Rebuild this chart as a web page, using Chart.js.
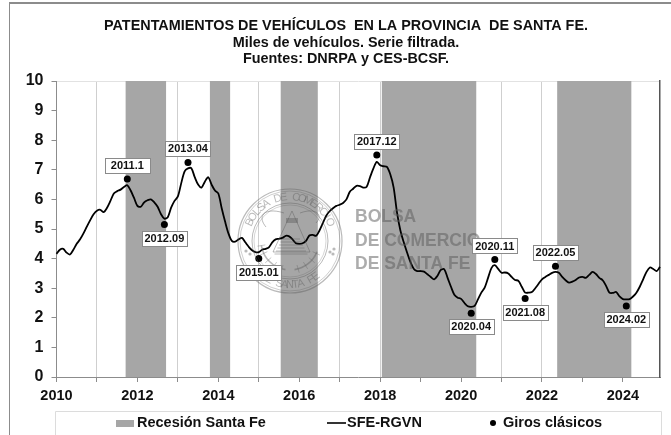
<!DOCTYPE html>
<html><head><meta charset="utf-8">
<style>html,body{margin:0;padding:0;background:#fff}#w{position:relative;width:671px;height:435px}</style>
<script src="https://cdn.jsdelivr.net/npm/chart.js@4"></script>
</head><body><div id="w"><canvas id="c" width="671" height="435"></canvas></div>
<script>
const titleLines = ["PATENTAMIENTOS DE VEHÍCULOS  EN LA PROVINCIA  DE SANTA FE.", "Miles de vehículos. Serie filtrada.", "Fuentes: DNRPA y CES-BCSF."];
const startYear = 2010;
const yTicks = [0,1,2,3,4,5,6,7,8,9,10];
const sfeRgvn = [
4.16,4.30,4.33,4.20,4.14,4.30,4.50,4.65,4.85,5.08,5.30,5.50,
5.62,5.65,5.57,5.72,5.95,6.20,6.28,6.33,6.42,6.48,6.30,6.05,
5.78,5.75,5.90,5.97,6.00,5.90,5.75,5.50,5.35,5.40,5.72,5.95,
6.10,6.55,6.95,7.05,7.05,6.75,6.50,6.40,6.60,6.75,6.50,6.30,
6.20,5.70,5.25,4.85,4.60,4.57,4.65,4.70,4.55,4.40,4.28,4.22,
4.22,4.30,4.33,4.38,4.55,4.65,4.67,4.70,4.77,4.75,4.65,4.52,
4.50,4.52,4.60,4.78,4.80,4.77,4.95,5.20,5.45,5.60,5.70,5.78,
5.82,5.88,6.00,6.26,6.36,6.46,6.45,6.40,6.43,6.75,7.05,7.27,
7.15,7.12,7.10,6.85,6.40,5.55,4.95,4.55,4.20,3.88,3.65,3.58,
3.58,3.56,3.47,3.38,3.30,3.42,3.62,3.64,3.35,3.05,2.78,2.68,
2.64,2.50,2.39,2.37,2.40,2.62,2.85,3.02,3.35,3.68,3.78,3.65,
3.52,3.53,3.50,3.38,3.28,3.25,3.05,2.85,2.85,2.87,3.00,3.15,
3.30,3.38,3.45,3.52,3.55,3.52,3.38,3.27,3.19,3.22,3.28,3.36,
3.38,3.35,3.45,3.55,3.48,3.35,3.27,3.08,2.85,2.84,2.87,2.72,
2.63,2.62,2.63,2.72,2.85,3.05,3.30,3.55,3.70,3.65,3.58,3.72];
const recessionStart = [21,46,67,97,149];
const recessionEnd   = [32,51,77,124,170];
const turnLabels = ["2011.1","2012.09","2013.04","2015.01","2017.12","2020.04","2020.11","2021.08","2022.05","2024.02"];
const turnMonth  = [21,32,39,60,95,123,130,139,148,169];
const turnValues = [6.69,5.15,7.25,4.00,7.50,2.15,3.97,2.65,3.74,2.40];
const turnBelow  = [false,true,false,true,false,true,false,true,false,true];
const legendLabels = ["Recesión Santa Fe","SFE-RGVN","Giros clásicos"];

const categories = sfeRgvn.map((_,i)=>(startYear+Math.floor(i/12))+"."+String(i%12+1).padStart(2,"0"));
const recession = categories.map((_,i)=>recessionStart.some((s,k)=>i>=s&&i<=recessionEnd[k])?10:0);
const turnPoints = turnMonth.map((m,k)=>({x:categories[m],y:turnValues[k]}));
const FONT = '"Liberation Sans", Arial, sans-serif';
const BAND = "#a6a6a6";

const frame = {id:"frame",beforeDraw(ch){const c=ch.ctx;c.save();c.fillStyle="#fff";c.fillRect(0,0,671,435);
  c.fillStyle="#8c8c8c";c.fillRect(9,2,662,2);c.fillRect(9,2,1,433);c.restore();}};

function seal(c){
  const cx=290,cy=241,R=52;
  c.save();
  c.strokeStyle="rgba(90,90,90,.42)";c.fillStyle="rgba(90,90,90,.42)";
  [[R,1.2],[R-2,.7],[R-14,1],[R-16,.6]].forEach(([r,w])=>{c.lineWidth=w;c.beginPath();c.arc(cx,cy,r,0,Math.PI*2);c.stroke();});
  // ring text
  c.font='11px '+FONT;c.textAlign="center";c.textBaseline="middle";
  const top="BOLSA DE COMERCIO",bot="DE SANTA FE";
  [...top].forEach((ch,i)=>{const a=-Math.PI/2+(i-(top.length-1)/2)*.142;c.save();c.translate(cx+Math.cos(a)*(R-8),cy+Math.sin(a)*(R-8));c.rotate(a+Math.PI/2);c.fillText(ch,0,0);c.restore();});
  [...bot].forEach((ch,i)=>{const a=Math.PI/2-(i-(bot.length-1)/2)*.125;c.save();c.translate(cx+Math.cos(a)*(R-8),cy+Math.sin(a)*(R-8));c.rotate(a-Math.PI/2);c.fillText(ch,0,0);c.restore();});
  // hill
  c.lineWidth=1;
  c.beginPath();c.moveTo(cx+2,cy-30);c.lineTo(cx-17,cy+11);c.lineTo(cx+20,cy+11);c.closePath();c.stroke();
  for(let k=0;k<6;k++){const y=cy-2+k*3;c.beginPath();c.moveTo(cx-8-k*1.5,y);c.lineTo(cx+10+k*1.5,y);c.stroke();}
  // sheaf and scrolls
  c.fillRect(cx-4,cy-23,12,5);
  c.beginPath();c.moveTo(cx-6,cy-28);c.bezierCurveTo(cx-24,cy-34,cx-34,cy-26,cx-24,cy-14);c.stroke();
  c.beginPath();c.moveTo(cx+10,cy-28);c.bezierCurveTo(cx+26,cy-34,cx+34,cy-26,cx+26,cy-18);c.stroke();
  // wreath
  c.lineWidth=1.6;
  c.beginPath();c.arc(cx,cy,29,Math.PI*.12,Math.PI*.45);c.stroke();
  c.beginPath();c.arc(cx,cy,29,Math.PI*.55,Math.PI*.95);c.stroke();
  c.lineWidth=.8;
  for(let a=.14;a<.95;a+=.09){ if(a>.44&&a<.56)continue;const t=Math.PI*a;c.beginPath();c.moveTo(cx+Math.cos(t)*25,cy+Math.sin(t)*25);c.lineTo(cx+Math.cos(t)*33,cy+Math.sin(t)*33);c.stroke();}
  [[-44,10],[-40,13],[44,8],[43,13],[40,11]].forEach(([dx,dy])=>{c.beginPath();c.arc(cx+dx,cy+dy,1.6,0,Math.PI*2);c.fill();});
  // name
  c.fillStyle="rgba(90,90,90,.5)";
  c.font='bold 17.5px '+FONT;c.textAlign="left";c.textBaseline="middle";
  c.fillText("BOLSA",355,217);c.fillText("DE COMERCIO",355,241);c.fillText("DE SANTA FE",355,264);
  c.restore();
}

const overlay = {id:"overlay",afterDatasetsDraw(ch){
  const c=ch.ctx;
  seal(c);
  const meta=ch.getDatasetMeta(2);
  c.save();
  c.font='bold 11px '+FONT;c.textAlign="center";c.textBaseline="middle";
  meta.data.forEach((p,k)=>{
    const w=45,h=15,cy=p.y+(turnBelow[k]?13.5:-13.5);
    c.fillStyle="#fff";c.strokeStyle="#8a8a8a";c.lineWidth=1;
    c.fillRect(Math.round(p.x-w/2),Math.round(cy-h/2),w,h);
    c.strokeRect(Math.round(p.x-w/2)+.5,Math.round(cy-h/2)+.5,w,h);
    c.fillStyle="#111";c.fillText(turnLabels[k],p.x,cy+.5);
  });
  c.restore();
  c.save();
  c.strokeStyle="#dcdcdc";c.lineWidth=1;
  c.beginPath();c.moveTo(55.5,435);c.lineTo(55.5,411.5);c.lineTo(661.5,411.5);c.lineTo(661.5,435);c.stroke();
  c.font='bold 14.5px '+FONT;c.fillStyle="#111";c.textAlign="left";c.textBaseline="middle";
  const ly=423;
  c.fillStyle=BAND;c.fillRect(116,ly-3,18,7);
  c.fillStyle="#111";c.fillText(legendLabels[0],137,ly);
  c.strokeStyle="#000";c.lineWidth=1.6;c.beginPath();c.moveTo(327,ly);c.lineTo(346,ly);c.stroke();
  c.fillText(legendLabels[1],347,ly);
  c.fillStyle="#000";c.beginPath();c.arc(493,ly,3,0,Math.PI*2);c.fill();
  c.fillStyle="#111";c.fillText(legendLabels[2],503,ly);
  c.restore();
}};

new Chart(document.getElementById("c"),{
  data:{labels:categories,datasets:[
    {type:"line",label:legendLabels[1],data:sfeRgvn,borderColor:"#000",borderWidth:1.8,tension:.3,pointRadius:0,order:2,clip:false},
    {type:"line",label:legendLabels[0],data:recession,stepped:"middle",borderWidth:0,borderColor:"transparent",backgroundColor:BAND,fill:"origin",pointRadius:0,order:3},
    {type:"line",label:legendLabels[2],data:turnPoints,showLine:false,pointRadius:3.5,pointBackgroundColor:"#000",pointBorderWidth:0,order:1}
  ]},
  options:{
    responsive:false,animation:false,
    layout:{padding:{left:21,right:0,top:18,bottom:0}},
    plugins:{
      legend:{display:false},tooltip:{enabled:false},
      title:{display:true,text:titleLines,color:"#111",font:{family:FONT,size:14.4,weight:"bold",lineHeight:1.146},padding:{top:0,bottom:13.5}}
    },
    scales:{
      x:{type:"category",offset:false,
        afterBuildTicks(s){s.ticks=s.ticks.filter(t=>t.value%12===0);},
        afterFit(s){s.height=58;},
        border:{color:"#8c8c8c",width:1},
        grid:{color:"#cfcfcf",lineWidth:1,tickColor:"#8c8c8c",tickLength:5,drawTicks:true},
        ticks:{autoSkip:false,maxRotation:0,minRotation:0,padding:5,color:"#111",font:{family:FONT,size:14.5,weight:"bold"},
          callback(v){return v%24===0?String(startYear+v/12):"";}}},
      y:{min:0,max:10,position:"left",
        afterFit(s){s.width=35.5;},
        border:{color:"#8c8c8c",width:1},
        grid:{color:c=>c.tick&&c.tick.value===10?"#e2e2e2":"transparent",tickColor:"#8c8c8c",tickLength:5},
        afterBuildTicks(s){s.ticks=yTicks.map(v=>({value:v}));},
        ticks:{padding:8,color:"#111",font:{family:FONT,size:16,weight:"bold"}}},
      y2:{min:0,max:10,position:"right",
        afterFit(s){s.width=11;},
        border:{color:"#555",width:1.5},
        grid:{display:false},ticks:{display:false}}
    }
  },
  plugins:[frame,overlay]
});
</script></body></html>
